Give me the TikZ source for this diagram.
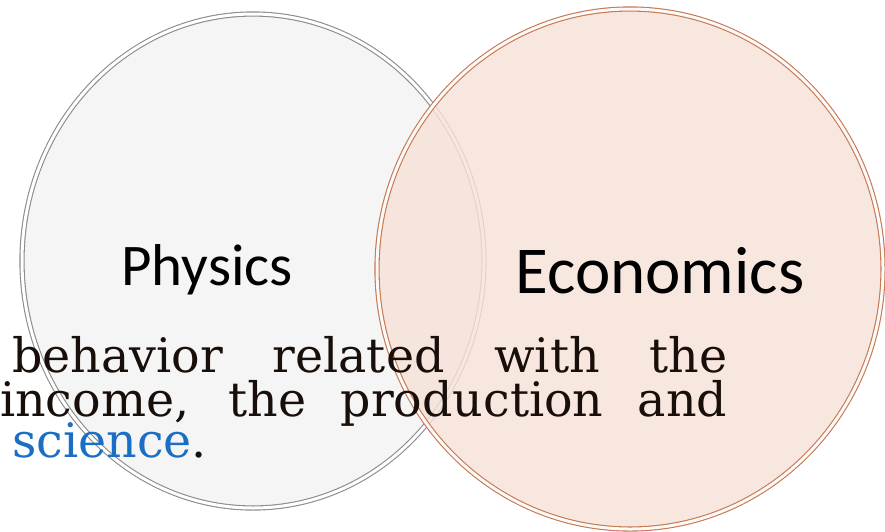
\documentclass[tikz,border=0pt]{standalone}
\usepackage{fontspec}
\usepackage{xcolor}
\usetikzlibrary{shapes.geometric}
\newfontfamily\labelfont{Carlito}
\newfontfamily\bodyfont{DejaVu Serif}
\definecolor{vnGreyF} {RGB}{245,245,245}
\definecolor{vnGreyD} {RGB}{140,140,140}
\definecolor{vnPeachF}{RGB}{247,226,216}
\definecolor{vnPeachD}{RGB}{196,120, 84}
\definecolor{vnText}  {RGB}{ 25, 15, 10}
\definecolor{vnBlue}  {RGB}{ 26,110,196}

\begin{document}
\begin{tikzpicture}[x=1pt,y=-1pt,
    ring/.style={ellipse,inner sep=0pt,outer sep=0pt,line width=1.1pt,
                 double distance=3pt},
    physC/.style={ring,fill=vnGreyF,draw=vnGreyD,double=white},
    econC/.style={ring,fill=vnPeachF,fill opacity=0.82,draw=vnPeachD,
                  double=white!80!vnPeachF,draw opacity=1},
    lbl/.style={inner sep=0pt,anchor=base,font=\labelfont},
    txt/.style={inner sep=0pt,anchor=base west,text=vnText,
                font=\bodyfont\fontsize{47.5}{47.5}\selectfont}
  ]
  \useasboundingbox (0,0) rectangle (885,531);
  % the two circles
  \node[physC,minimum width=462pt,minimum height=494pt] (phys) at (253,261) {};
  \node[econC,minimum width=506pt,minimum height=520pt] (econ) at (630,269) {};
  % circle labels
  \node[lbl,font=\labelfont\fontsize{59}{59}\selectfont] (physL) at (207,285) {Physics};
  \node[lbl,font=\labelfont\fontsize{67}{67}\selectfont] (econL) at (660,293) {Economics};
  % paragraph lines
  \node[txt] (line1) at (12,372) {\makebox[715pt][s]{behavior related with the}};
  \node[txt] (line2) at (0,416) {\makebox[727pt][s]{income, the production and}};
  \node[txt] (line3) at (12,457) {\textcolor{vnBlue}{science}.};
\end{tikzpicture}
\end{document}
